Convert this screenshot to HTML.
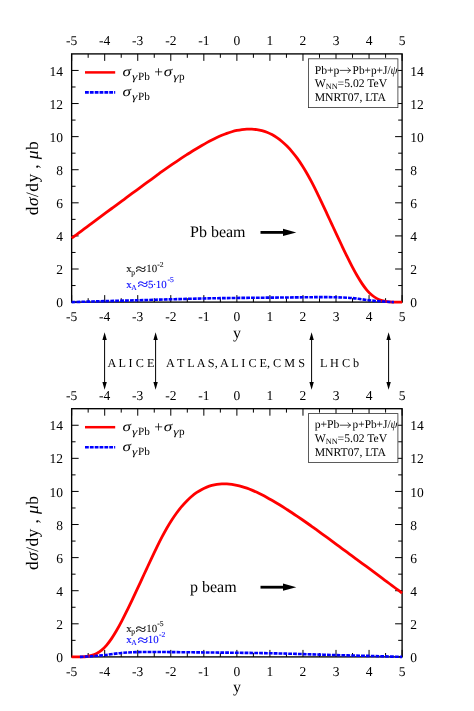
<!DOCTYPE html>
<html><head><meta charset="utf-8"><title>chart</title>
<style>
html,body{margin:0;padding:0;background:#fff;}
body{width:474px;height:711px;overflow:hidden;}
svg{display:block;will-change:transform;}
text{font-family:"Liberation Serif",serif;text-rendering:geometricPrecision;}
.tk{font-size:13.5px;}
.lg{font-size:15.5px;}
.sg{font-style:italic;font-size:15.5px;}
.sb{font-size:10.3px;}
.pl{font-size:13px;}
.bx{font-size:11.7px;}
.bs{font-size:8.2px;}
.bm{font-size:16px;}
.xs{font-size:10.8px;}
.ss{font-size:7.3px;}
.yl{font-size:16px;}
.al{font-size:17.5px;}
.it{font-style:italic;}
.md{font-size:12.2px;}
</style></head><body>
<svg width="474" height="711" viewBox="0 0 474 711">
<rect width="474" height="711" fill="#fff"/>
<path d="M71.65 53.90 v7.0 M71.65 302.10 v-7.0 M88.17 53.90 v3.9 M88.17 302.10 v-3.9 M104.70 53.90 v7.0 M104.70 302.10 v-7.0 M121.22 53.90 v3.9 M121.22 302.10 v-3.9 M137.74 53.90 v7.0 M137.74 302.10 v-7.0 M154.26 53.90 v3.9 M154.26 302.10 v-3.9 M170.79 53.90 v7.0 M170.79 302.10 v-7.0 M187.31 53.90 v3.9 M187.31 302.10 v-3.9 M203.83 53.90 v7.0 M203.83 302.10 v-7.0 M220.35 53.90 v3.9 M220.35 302.10 v-3.9 M236.88 53.90 v7.0 M236.88 302.10 v-7.0 M253.40 53.90 v3.9 M253.40 302.10 v-3.9 M269.92 53.90 v7.0 M269.92 302.10 v-7.0 M286.44 53.90 v3.9 M286.44 302.10 v-3.9 M302.97 53.90 v7.0 M302.97 302.10 v-7.0 M319.49 53.90 v3.9 M319.49 302.10 v-3.9 M336.01 53.90 v7.0 M336.01 302.10 v-7.0 M352.53 53.90 v3.9 M352.53 302.10 v-3.9 M369.06 53.90 v7.0 M369.06 302.10 v-7.0 M385.58 53.90 v3.9 M385.58 302.10 v-3.9 M402.10 53.90 v7.0 M402.10 302.10 v-7.0 M71.65 302.10 h7.0 M402.10 302.10 h-7.0 M71.65 269.01 h7.0 M402.10 269.01 h-7.0 M71.65 235.91 h7.0 M402.10 235.91 h-7.0 M71.65 202.82 h7.0 M402.10 202.82 h-7.0 M71.65 169.73 h7.0 M402.10 169.73 h-7.0 M71.65 136.63 h7.0 M402.10 136.63 h-7.0 M71.65 103.54 h7.0 M402.10 103.54 h-7.0 M71.65 70.45 h7.0 M402.10 70.45 h-7.0 M71.65 285.55 h3.9 M402.10 285.55 h-3.9 M71.65 252.46 h3.9 M402.10 252.46 h-3.9 M71.65 219.37 h3.9 M402.10 219.37 h-3.9 M71.65 186.27 h3.9 M402.10 186.27 h-3.9 M71.65 153.18 h3.9 M402.10 153.18 h-3.9 M71.65 120.09 h3.9 M402.10 120.09 h-3.9 M71.65 86.99 h3.9 M402.10 86.99 h-3.9" stroke="#000" stroke-width="1.0" fill="none"/>
<rect x="71.65" y="53.90" width="330.45" height="248.20" fill="none" stroke="#000" stroke-width="1.35"/>
<text x="71.65" y="44.90" text-anchor="middle" class="tk">-5</text>
<text x="71.65" y="321.40" text-anchor="middle" class="tk">-5</text>
<text x="104.70" y="44.90" text-anchor="middle" class="tk">-4</text>
<text x="104.70" y="321.40" text-anchor="middle" class="tk">-4</text>
<text x="137.74" y="44.90" text-anchor="middle" class="tk">-3</text>
<text x="137.74" y="321.40" text-anchor="middle" class="tk">-3</text>
<text x="170.79" y="44.90" text-anchor="middle" class="tk">-2</text>
<text x="170.79" y="321.40" text-anchor="middle" class="tk">-2</text>
<text x="203.83" y="44.90" text-anchor="middle" class="tk">-1</text>
<text x="203.83" y="321.40" text-anchor="middle" class="tk">-1</text>
<text x="236.88" y="44.90" text-anchor="middle" class="tk">0</text>
<text x="236.88" y="321.40" text-anchor="middle" class="tk">0</text>
<text x="269.92" y="44.90" text-anchor="middle" class="tk">1</text>
<text x="269.92" y="321.40" text-anchor="middle" class="tk">1</text>
<text x="302.97" y="44.90" text-anchor="middle" class="tk">2</text>
<text x="302.97" y="321.40" text-anchor="middle" class="tk">2</text>
<text x="336.01" y="44.90" text-anchor="middle" class="tk">3</text>
<text x="336.01" y="321.40" text-anchor="middle" class="tk">3</text>
<text x="369.06" y="44.90" text-anchor="middle" class="tk">4</text>
<text x="369.06" y="321.40" text-anchor="middle" class="tk">4</text>
<text x="402.10" y="44.90" text-anchor="middle" class="tk">5</text>
<text x="402.10" y="321.40" text-anchor="middle" class="tk">5</text>
<text x="62.9" y="307.20" text-anchor="end" class="tk">0</text>
<text x="410.3" y="307.20" text-anchor="start" class="tk">0</text>
<text x="62.9" y="274.11" text-anchor="end" class="tk">2</text>
<text x="410.3" y="274.11" text-anchor="start" class="tk">2</text>
<text x="62.9" y="241.01" text-anchor="end" class="tk">4</text>
<text x="410.3" y="241.01" text-anchor="start" class="tk">4</text>
<text x="62.9" y="207.92" text-anchor="end" class="tk">6</text>
<text x="410.3" y="207.92" text-anchor="start" class="tk">6</text>
<text x="62.9" y="174.83" text-anchor="end" class="tk">8</text>
<text x="410.3" y="174.83" text-anchor="start" class="tk">8</text>
<text x="62.9" y="141.73" text-anchor="end" class="tk">10</text>
<text x="410.3" y="141.73" text-anchor="start" class="tk">10</text>
<text x="62.9" y="108.64" text-anchor="end" class="tk">12</text>
<text x="410.3" y="108.64" text-anchor="start" class="tk">12</text>
<text x="62.9" y="75.55" text-anchor="end" class="tk">14</text>
<text x="410.3" y="75.55" text-anchor="start" class="tk">14</text>
<path d="M71.65 238.23 C72.48 237.61 74.99 235.78 76.66 234.55 C78.33 233.31 79.99 232.07 81.66 230.82 C83.33 229.58 85.00 228.33 86.67 227.09 C88.34 225.85 90.01 224.61 91.68 223.37 C93.35 222.12 95.02 220.87 96.68 219.62 C98.35 218.37 100.02 217.10 101.69 215.86 C103.36 214.62 105.03 213.41 106.70 212.18 C108.37 210.95 110.04 209.73 111.70 208.50 C113.37 207.27 115.04 206.04 116.71 204.81 C118.38 203.58 120.05 202.35 121.72 201.12 C123.39 199.89 125.06 198.65 126.73 197.42 C128.39 196.18 130.06 194.95 131.73 193.71 C133.40 192.48 135.07 191.25 136.74 190.02 C138.41 188.79 140.08 187.57 141.75 186.35 C143.41 185.12 145.08 183.91 146.75 182.69 C148.42 181.48 150.09 180.27 151.76 179.06 C153.43 177.85 155.10 176.64 156.77 175.42 C158.43 174.19 160.10 172.93 161.77 171.73 C163.44 170.52 165.11 169.35 166.78 168.18 C168.45 167.01 170.12 165.86 171.79 164.71 C173.46 163.56 175.12 162.42 176.79 161.29 C178.46 160.15 180.13 159.03 181.80 157.93 C183.47 156.82 185.14 155.72 186.81 154.65 C188.48 153.58 190.14 152.51 191.81 151.48 C193.48 150.44 195.15 149.43 196.82 148.44 C198.49 147.44 200.16 146.46 201.83 145.49 C203.50 144.52 205.17 143.55 206.83 142.63 C208.50 141.71 210.17 140.82 211.84 139.96 C213.51 139.11 215.18 138.29 216.85 137.51 C218.52 136.73 220.19 135.98 221.85 135.29 C223.52 134.60 225.19 133.94 226.86 133.35 C228.53 132.77 230.20 132.23 231.87 131.76 C233.54 131.28 235.21 130.85 236.88 130.49 C238.54 130.13 240.21 129.83 241.88 129.60 C243.55 129.38 245.22 129.22 246.89 129.14 C248.56 129.06 250.23 129.05 251.90 129.13 C253.56 129.20 255.23 129.35 256.90 129.61 C258.57 129.86 260.24 130.20 261.91 130.65 C263.58 131.10 265.25 131.64 266.92 132.30 C268.58 132.96 270.25 133.72 271.92 134.61 C273.59 135.50 275.26 136.50 276.93 137.65 C278.60 138.79 280.27 140.07 281.94 141.48 C283.61 142.89 285.27 144.43 286.94 146.11 C288.61 147.79 290.28 149.61 291.95 151.58 C293.62 153.55 295.29 155.66 296.96 157.93 C298.63 160.21 300.29 162.63 301.96 165.22 C303.63 167.81 305.30 170.56 306.97 173.46 C308.64 176.36 310.31 179.43 311.98 182.61 C313.65 185.80 315.32 189.17 316.98 192.58 C318.65 195.99 320.32 199.53 321.99 203.07 C323.66 206.60 325.33 210.20 327.00 213.79 C328.67 217.38 330.34 221.00 332.00 224.60 C333.67 228.20 335.34 231.81 337.01 235.38 C338.68 238.95 340.35 242.52 342.02 246.02 C343.69 249.52 345.36 253.02 347.03 256.40 C348.69 259.79 350.36 263.15 352.03 266.34 C353.70 269.52 355.37 272.64 357.04 275.51 C358.71 278.39 360.38 281.14 362.05 283.60 C363.71 286.07 365.38 288.34 367.05 290.29 C368.72 292.23 370.39 293.88 372.06 295.27 C373.73 296.65 375.40 297.72 377.07 298.62 C378.73 299.51 380.40 300.14 382.07 300.65 C383.74 301.16 385.41 301.45 387.08 301.69 C388.75 301.92 390.42 301.99 392.09 302.05 C393.76 302.11 395.42 302.06 397.09 302.06 C398.76 302.06 401.27 302.04 402.10 302.03" stroke="#ff0000" stroke-width="2.8" fill="none" stroke-linecap="butt"/>
<path d="M71.65 302.10 C74.40 302.02 82.67 301.77 88.17 301.60 C93.68 301.44 96.43 301.33 104.70 301.11 C112.96 300.89 126.73 300.58 137.74 300.28 C148.76 299.98 159.77 299.59 170.79 299.29 C181.80 298.98 192.81 298.68 203.83 298.46 C214.85 298.24 225.86 298.10 236.88 297.96 C247.89 297.83 258.91 297.74 269.92 297.63 C280.94 297.52 294.70 297.38 302.97 297.30 C311.23 297.22 313.98 297.14 319.49 297.14 C325.00 297.14 330.50 297.14 336.01 297.30 C341.52 297.47 347.03 297.63 352.53 298.13 C358.04 298.63 364.10 299.73 369.06 300.28 C374.01 300.83 378.14 301.13 382.27 301.44 C386.40 301.74 391.91 301.99 393.84 302.10" stroke="#0000ff" stroke-width="2.6" fill="none" stroke-dasharray="3.8 1.05"/>
<path d="M85 72.40 H115.2" stroke="#ff0000" stroke-width="2.5"/>
<path d="M85 92.40 H115.2" stroke="#0000ff" stroke-width="2.6" stroke-dasharray="3.8 1.05"/>
<text transform="translate(122.60 76.20) scale(1.22 1)" style="font-size:14px;font-style:italic;">σ</text>
<text transform="translate(131.90 79.70) scale(1.3 1)" style="font-size:10.5px;font-style:italic;">γ</text>
<text transform="translate(138.00 79.90) scale(1 1)" style="font-size:11.2px;">Pb</text>
<text transform="translate(154.30 77.40) scale(1 1)" style="font-size:15.4px;">+</text>
<text transform="translate(163.80 76.20) scale(1.22 1)" style="font-size:14px;font-style:italic;">σ</text>
<text transform="translate(173.20 79.70) scale(1.3 1)" style="font-size:10.5px;font-style:italic;">γ</text>
<text transform="translate(178.90 79.90) scale(1 1)" style="font-size:11.2px;">p</text>
<text transform="translate(122.60 96.20) scale(1.22 1)" style="font-size:14px;font-style:italic;">σ</text>
<text transform="translate(131.90 99.70) scale(1.3 1)" style="font-size:10.5px;font-style:italic;">γ</text>
<text transform="translate(138.00 99.90) scale(1 1)" style="font-size:11.2px;">Pb</text>
<rect x="308.5" y="58.80" width="89.4" height="48.8" fill="#fff" stroke="#333" stroke-width="0.8"/>
<text x="314.7" y="73.60" class="bx">Pb+p</text>
<path d="M340.1 70.40 H350.3 M348.0 68.00 Q348.9 69.80 350.6 70.40 Q348.9 71.00 348.0 72.80" stroke="#111" stroke-width="0.75" fill="none" stroke-linecap="round"/>
<text x="352.6" y="73.60" class="bx" textLength="45.0" lengthAdjust="spacingAndGlyphs">Pb+p+J/<tspan class="it">ψ</tspan></text>
<text x="314.7" y="87.30" class="bx">W<tspan class="bs" dy="2.1">NN</tspan><tspan dy="-2.1">=5.02 TeV</tspan></text>
<text x="314.7" y="101.20" class="bx">MNRT07, LTA</text>
<text x="190.00" y="237.20" class="bm">Pb beam</text>
<path d="M260.5 232.40 H285" stroke="#000" stroke-width="2.8"/>
<path d="M296.3 232.40 L283 228.80 L283 236.00 Z" fill="#000"/>
<text transform="translate(126.30 272.40) scale(1 1)" style="font-size:10.9px;fill:#111;stroke:#111;stroke-width:0.1px;">x</text>
<text transform="translate(131.20 274.50) scale(1 1)" style="font-size:7.6px;fill:#111;stroke:#111;stroke-width:0.1px;">p</text>
<text transform="translate(135.50 274.00) scale(1.8 1.35)" style="font-size:10.9px;fill:#111;stroke:#111;stroke-width:0.1px;">≈</text>
<text transform="translate(146.30 272.40) scale(1 1)" style="font-size:10.9px;fill:#111;stroke:#111;stroke-width:0.1px;">10</text>
<text transform="translate(157.30 266.80) scale(1 1)" style="font-size:7.6px;fill:#111;stroke:#111;stroke-width:0.1px;">-2</text>
<text transform="translate(126.30 287.80) scale(1 1)" style="font-size:10.9px;fill:#0a0aff;stroke:#0a0aff;stroke-width:0.1px;">x</text>
<text transform="translate(131.20 289.90) scale(1 1)" style="font-size:7.6px;fill:#0a0aff;stroke:#0a0aff;stroke-width:0.1px;">A</text>
<text transform="translate(137.60 289.40) scale(1.8 1.35)" style="font-size:10.9px;fill:#0a0aff;stroke:#0a0aff;stroke-width:0.1px;">≈</text>
<text transform="translate(148.00 287.80) scale(1 1)" style="font-size:10.9px;fill:#0a0aff;stroke:#0a0aff;stroke-width:0.1px;">5</text>
<text transform="translate(152.70 287.80) scale(1 1)" style="font-size:10.9px;fill:#0a0aff;stroke:#0a0aff;stroke-width:0.1px;">·</text>
<text transform="translate(155.70 287.80) scale(1 1)" style="font-size:10.9px;fill:#0a0aff;stroke:#0a0aff;stroke-width:0.1px;">10</text>
<text transform="translate(167.50 282.20) scale(1 1)" style="font-size:7.6px;fill:#0a0aff;stroke:#0a0aff;stroke-width:0.1px;">-5</text>
<text x="236.9" y="337.50" text-anchor="middle" class="yl">y</text>
<text transform="translate(37.9 178.20) rotate(-90)" text-anchor="middle" class="al" textLength="74" lengthAdjust="spacing">d<tspan class="it">σ</tspan>/dy , <tspan class="it">μ</tspan>b</text>
<path d="M71.65 408.70 v7.0 M71.65 656.90 v-7.0 M88.17 408.70 v3.9 M88.17 656.90 v-3.9 M104.70 408.70 v7.0 M104.70 656.90 v-7.0 M121.22 408.70 v3.9 M121.22 656.90 v-3.9 M137.74 408.70 v7.0 M137.74 656.90 v-7.0 M154.26 408.70 v3.9 M154.26 656.90 v-3.9 M170.79 408.70 v7.0 M170.79 656.90 v-7.0 M187.31 408.70 v3.9 M187.31 656.90 v-3.9 M203.83 408.70 v7.0 M203.83 656.90 v-7.0 M220.35 408.70 v3.9 M220.35 656.90 v-3.9 M236.88 408.70 v7.0 M236.88 656.90 v-7.0 M253.40 408.70 v3.9 M253.40 656.90 v-3.9 M269.92 408.70 v7.0 M269.92 656.90 v-7.0 M286.44 408.70 v3.9 M286.44 656.90 v-3.9 M302.97 408.70 v7.0 M302.97 656.90 v-7.0 M319.49 408.70 v3.9 M319.49 656.90 v-3.9 M336.01 408.70 v7.0 M336.01 656.90 v-7.0 M352.53 408.70 v3.9 M352.53 656.90 v-3.9 M369.06 408.70 v7.0 M369.06 656.90 v-7.0 M385.58 408.70 v3.9 M385.58 656.90 v-3.9 M402.10 408.70 v7.0 M402.10 656.90 v-7.0 M71.65 656.90 h7.0 M402.10 656.90 h-7.0 M71.65 623.81 h7.0 M402.10 623.81 h-7.0 M71.65 590.71 h7.0 M402.10 590.71 h-7.0 M71.65 557.62 h7.0 M402.10 557.62 h-7.0 M71.65 524.53 h7.0 M402.10 524.53 h-7.0 M71.65 491.43 h7.0 M402.10 491.43 h-7.0 M71.65 458.34 h7.0 M402.10 458.34 h-7.0 M71.65 425.25 h7.0 M402.10 425.25 h-7.0 M71.65 640.35 h3.9 M402.10 640.35 h-3.9 M71.65 607.26 h3.9 M402.10 607.26 h-3.9 M71.65 574.17 h3.9 M402.10 574.17 h-3.9 M71.65 541.07 h3.9 M402.10 541.07 h-3.9 M71.65 507.98 h3.9 M402.10 507.98 h-3.9 M71.65 474.89 h3.9 M402.10 474.89 h-3.9 M71.65 441.79 h3.9 M402.10 441.79 h-3.9" stroke="#000" stroke-width="1.0" fill="none"/>
<rect x="71.65" y="408.70" width="330.45" height="248.20" fill="none" stroke="#000" stroke-width="1.35"/>
<text x="71.65" y="399.70" text-anchor="middle" class="tk">-5</text>
<text x="71.65" y="676.20" text-anchor="middle" class="tk">-5</text>
<text x="104.70" y="399.70" text-anchor="middle" class="tk">-4</text>
<text x="104.70" y="676.20" text-anchor="middle" class="tk">-4</text>
<text x="137.74" y="399.70" text-anchor="middle" class="tk">-3</text>
<text x="137.74" y="676.20" text-anchor="middle" class="tk">-3</text>
<text x="170.79" y="399.70" text-anchor="middle" class="tk">-2</text>
<text x="170.79" y="676.20" text-anchor="middle" class="tk">-2</text>
<text x="203.83" y="399.70" text-anchor="middle" class="tk">-1</text>
<text x="203.83" y="676.20" text-anchor="middle" class="tk">-1</text>
<text x="236.88" y="399.70" text-anchor="middle" class="tk">0</text>
<text x="236.88" y="676.20" text-anchor="middle" class="tk">0</text>
<text x="269.92" y="399.70" text-anchor="middle" class="tk">1</text>
<text x="269.92" y="676.20" text-anchor="middle" class="tk">1</text>
<text x="302.97" y="399.70" text-anchor="middle" class="tk">2</text>
<text x="302.97" y="676.20" text-anchor="middle" class="tk">2</text>
<text x="336.01" y="399.70" text-anchor="middle" class="tk">3</text>
<text x="336.01" y="676.20" text-anchor="middle" class="tk">3</text>
<text x="369.06" y="399.70" text-anchor="middle" class="tk">4</text>
<text x="369.06" y="676.20" text-anchor="middle" class="tk">4</text>
<text x="402.10" y="399.70" text-anchor="middle" class="tk">5</text>
<text x="402.10" y="676.20" text-anchor="middle" class="tk">5</text>
<text x="62.9" y="662.00" text-anchor="end" class="tk">0</text>
<text x="410.3" y="662.00" text-anchor="start" class="tk">0</text>
<text x="62.9" y="628.91" text-anchor="end" class="tk">2</text>
<text x="410.3" y="628.91" text-anchor="start" class="tk">2</text>
<text x="62.9" y="595.81" text-anchor="end" class="tk">4</text>
<text x="410.3" y="595.81" text-anchor="start" class="tk">4</text>
<text x="62.9" y="562.72" text-anchor="end" class="tk">6</text>
<text x="410.3" y="562.72" text-anchor="start" class="tk">6</text>
<text x="62.9" y="529.63" text-anchor="end" class="tk">8</text>
<text x="410.3" y="529.63" text-anchor="start" class="tk">8</text>
<text x="62.9" y="496.53" text-anchor="end" class="tk">10</text>
<text x="410.3" y="496.53" text-anchor="start" class="tk">10</text>
<text x="62.9" y="463.44" text-anchor="end" class="tk">12</text>
<text x="410.3" y="463.44" text-anchor="start" class="tk">12</text>
<text x="62.9" y="430.35" text-anchor="end" class="tk">14</text>
<text x="410.3" y="430.35" text-anchor="start" class="tk">14</text>
<path d="M71.65 656.83 C72.48 656.84 74.99 656.86 76.66 656.86 C78.33 656.86 79.99 656.91 81.66 656.85 C83.33 656.79 85.00 656.72 86.67 656.49 C88.34 656.25 90.01 655.96 91.68 655.45 C93.35 654.94 95.02 654.31 96.68 653.42 C98.35 652.52 100.02 651.45 101.69 650.07 C103.36 648.68 105.03 647.03 106.70 645.09 C108.37 643.14 110.04 640.87 111.70 638.40 C113.37 635.94 115.04 633.19 116.71 630.31 C118.38 627.44 120.05 624.32 121.72 621.14 C123.39 617.95 125.06 614.59 126.72 611.20 C128.39 607.82 130.06 604.32 131.73 600.82 C133.40 597.32 135.07 593.75 136.74 590.18 C138.41 586.61 140.08 583.00 141.75 579.40 C143.41 575.80 145.08 572.18 146.75 568.59 C148.42 565.00 150.09 561.40 151.76 557.87 C153.43 554.33 155.10 550.79 156.77 547.38 C158.43 543.97 160.10 540.60 161.77 537.41 C163.44 534.23 165.11 531.16 166.78 528.26 C168.45 525.36 170.12 522.61 171.79 520.02 C173.46 517.43 175.12 515.01 176.79 512.73 C178.46 510.46 180.13 508.35 181.80 506.38 C183.47 504.41 185.14 502.59 186.81 500.91 C188.48 499.23 190.14 497.69 191.81 496.28 C193.48 494.87 195.15 493.59 196.82 492.45 C198.49 491.30 200.16 490.30 201.83 489.41 C203.50 488.52 205.17 487.76 206.83 487.10 C208.50 486.44 210.17 485.90 211.84 485.45 C213.51 485.00 215.18 484.66 216.85 484.41 C218.52 484.15 220.19 484.00 221.85 483.93 C223.52 483.85 225.19 483.86 226.86 483.94 C228.53 484.02 230.20 484.18 231.87 484.40 C233.54 484.63 235.21 484.93 236.87 485.29 C238.54 485.65 240.21 486.08 241.88 486.56 C243.55 487.03 245.22 487.57 246.89 488.15 C248.56 488.74 250.23 489.40 251.90 490.09 C253.56 490.78 255.23 491.53 256.90 492.31 C258.57 493.09 260.24 493.91 261.91 494.76 C263.58 495.62 265.25 496.51 266.92 497.43 C268.58 498.35 270.25 499.32 271.92 500.29 C273.59 501.26 275.26 502.24 276.93 503.24 C278.60 504.23 280.27 505.24 281.94 506.28 C283.61 507.31 285.27 508.38 286.94 509.45 C288.61 510.52 290.28 511.62 291.95 512.73 C293.62 513.83 295.29 514.95 296.96 516.09 C298.63 517.22 300.29 518.36 301.96 519.51 C303.63 520.66 305.30 521.81 306.97 522.98 C308.64 524.15 310.31 525.32 311.98 526.53 C313.65 527.73 315.32 528.99 316.98 530.22 C318.65 531.44 320.32 532.65 321.99 533.86 C323.66 535.07 325.33 536.28 327.00 537.49 C328.67 538.71 330.34 539.92 332.00 541.15 C333.67 542.37 335.34 543.59 337.01 544.82 C338.68 546.05 340.35 547.28 342.02 548.51 C343.69 549.75 345.36 550.98 347.02 552.22 C348.69 553.45 350.36 554.69 352.03 555.92 C353.70 557.15 355.37 558.38 357.04 559.61 C358.71 560.84 360.38 562.07 362.05 563.30 C363.71 564.53 365.38 565.75 367.05 566.98 C368.72 568.21 370.39 569.42 372.06 570.66 C373.73 571.90 375.40 573.17 377.07 574.42 C378.73 575.67 380.40 576.92 382.07 578.17 C383.74 579.41 385.41 580.65 387.08 581.89 C388.75 583.13 390.42 584.38 392.09 585.62 C393.76 586.87 395.42 588.11 397.09 589.35 C398.76 590.58 401.27 592.41 402.10 593.03" stroke="#ff0000" stroke-width="2.8" fill="none" stroke-linecap="butt"/>
<path d="M79.91 656.90 C81.84 656.79 87.35 656.54 91.48 656.24 C95.61 655.93 99.74 655.63 104.70 655.08 C109.65 654.53 115.71 653.43 121.22 652.93 C126.72 652.43 132.23 652.27 137.74 652.10 C143.25 651.94 148.76 651.94 154.26 651.94 C159.77 651.94 162.52 652.02 170.79 652.10 C179.05 652.18 192.81 652.32 203.83 652.43 C214.85 652.54 225.86 652.63 236.88 652.76 C247.89 652.90 258.91 653.04 269.92 653.26 C280.94 653.48 291.95 653.78 302.97 654.09 C313.98 654.39 325.00 654.78 336.01 655.08 C347.02 655.38 360.79 655.69 369.06 655.91 C377.32 656.13 380.07 656.24 385.58 656.40 C391.08 656.57 399.35 656.82 402.10 656.90" stroke="#0000ff" stroke-width="2.6" fill="none" stroke-dasharray="3.8 1.05"/>
<path d="M85 427.20 H115.2" stroke="#ff0000" stroke-width="2.5"/>
<path d="M85 447.20 H115.2" stroke="#0000ff" stroke-width="2.6" stroke-dasharray="3.8 1.05"/>
<text transform="translate(122.60 431.00) scale(1.22 1)" style="font-size:14px;font-style:italic;">σ</text>
<text transform="translate(131.90 434.50) scale(1.3 1)" style="font-size:10.5px;font-style:italic;">γ</text>
<text transform="translate(138.00 434.70) scale(1 1)" style="font-size:11.2px;">Pb</text>
<text transform="translate(154.30 432.20) scale(1 1)" style="font-size:15.4px;">+</text>
<text transform="translate(163.80 431.00) scale(1.22 1)" style="font-size:14px;font-style:italic;">σ</text>
<text transform="translate(173.20 434.50) scale(1.3 1)" style="font-size:10.5px;font-style:italic;">γ</text>
<text transform="translate(178.90 434.70) scale(1 1)" style="font-size:11.2px;">p</text>
<text transform="translate(122.60 451.00) scale(1.22 1)" style="font-size:14px;font-style:italic;">σ</text>
<text transform="translate(131.90 454.50) scale(1.3 1)" style="font-size:10.5px;font-style:italic;">γ</text>
<text transform="translate(138.00 454.70) scale(1 1)" style="font-size:11.2px;">Pb</text>
<rect x="308.5" y="413.60" width="89.4" height="48.8" fill="#fff" stroke="#333" stroke-width="0.8"/>
<text x="314.7" y="428.40" class="bx">p+Pb</text>
<path d="M340.1 425.20 H350.3 M348.0 422.80 Q348.9 424.60 350.6 425.20 Q348.9 425.80 348.0 427.60" stroke="#111" stroke-width="0.75" fill="none" stroke-linecap="round"/>
<text x="352.6" y="428.40" class="bx" textLength="45.0" lengthAdjust="spacingAndGlyphs">p+Pb+J/<tspan class="it">ψ</tspan></text>
<text x="314.7" y="442.10" class="bx">W<tspan class="bs" dy="2.1">NN</tspan><tspan dy="-2.1">=5.02 TeV</tspan></text>
<text x="314.7" y="456.00" class="bx">MNRT07, LTA</text>
<text x="190.00" y="592.00" class="bm">p beam</text>
<path d="M260.5 587.20 H285" stroke="#000" stroke-width="2.8"/>
<path d="M296.3 587.20 L283 583.60 L283 590.80 Z" fill="#000"/>
<text transform="translate(126.30 632.00) scale(1 1)" style="font-size:10.9px;fill:#111;stroke:#111;stroke-width:0.1px;">x</text>
<text transform="translate(131.20 634.10) scale(1 1)" style="font-size:7.6px;fill:#111;stroke:#111;stroke-width:0.1px;">p</text>
<text transform="translate(135.50 633.60) scale(1.8 1.35)" style="font-size:10.9px;fill:#111;stroke:#111;stroke-width:0.1px;">≈</text>
<text transform="translate(146.30 632.00) scale(1 1)" style="font-size:10.9px;fill:#111;stroke:#111;stroke-width:0.1px;">10</text>
<text transform="translate(157.30 626.40) scale(1 1)" style="font-size:7.6px;fill:#111;stroke:#111;stroke-width:0.1px;">-5</text>
<text transform="translate(126.30 642.90) scale(1 1)" style="font-size:10.9px;fill:#0a0aff;stroke:#0a0aff;stroke-width:0.1px;">x</text>
<text transform="translate(131.20 645.00) scale(1 1)" style="font-size:7.6px;fill:#0a0aff;stroke:#0a0aff;stroke-width:0.1px;">A</text>
<text transform="translate(137.60 644.50) scale(1.8 1.35)" style="font-size:10.9px;fill:#0a0aff;stroke:#0a0aff;stroke-width:0.1px;">≈</text>
<text transform="translate(147.80 642.90) scale(1 1)" style="font-size:10.9px;fill:#0a0aff;stroke:#0a0aff;stroke-width:0.1px;">10</text>
<text transform="translate(159.00 637.30) scale(1 1)" style="font-size:7.6px;fill:#0a0aff;stroke:#0a0aff;stroke-width:0.1px;">-2</text>
<text x="236.9" y="692.30" text-anchor="middle" class="yl">y</text>
<text transform="translate(37.9 533.00) rotate(-90)" text-anchor="middle" class="al" textLength="74" lengthAdjust="spacing">d<tspan class="it">σ</tspan>/dy , <tspan class="it">μ</tspan>b</text>
<path d="M104.60 337.20 V384.80" stroke="#000" stroke-width="1.0"/>
<path d="M104.60 332.20 l-2.2 7.8 h4.4 Z M104.60 389.80 l-2.2 -7.8 h4.4 Z" fill="#000"/>
<path d="M155.60 337.20 V384.80" stroke="#000" stroke-width="1.0"/>
<path d="M155.60 332.20 l-2.2 7.8 h4.4 Z M155.60 389.80 l-2.2 -7.8 h4.4 Z" fill="#000"/>
<path d="M311.60 337.20 V384.80" stroke="#000" stroke-width="1.0"/>
<path d="M311.60 332.20 l-2.2 7.8 h4.4 Z M311.60 389.80 l-2.2 -7.8 h4.4 Z" fill="#000"/>
<path d="M388.60 337.20 V384.80" stroke="#000" stroke-width="1.0"/>
<path d="M388.60 332.20 l-2.2 7.8 h4.4 Z M388.60 389.80 l-2.2 -7.8 h4.4 Z" fill="#000"/>
<text x="107.4" y="367.4" class="md">A L I C E</text>
<text x="166.1" y="367.4" class="md">A T L A S, A L I C E, C M S</text>
<text x="320.0" y="367.4" class="md">L H C b</text>
</svg>
</body></html>
